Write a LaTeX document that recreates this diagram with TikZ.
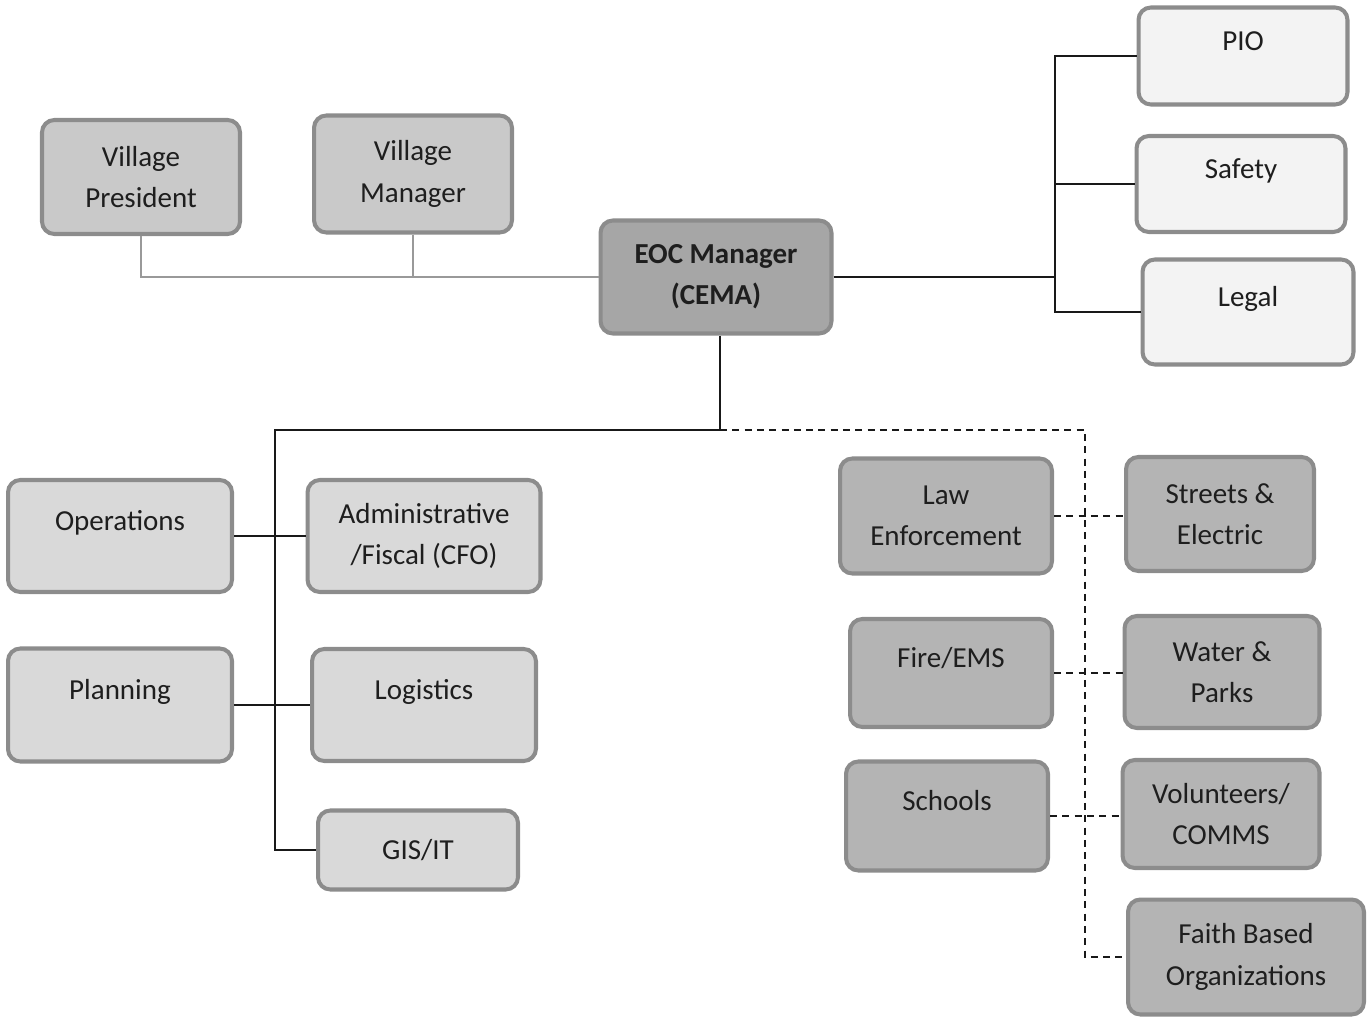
\documentclass[tikz,border=0pt]{standalone}
\usepackage{fontspec}
\setmainfont{Carlito}
\usetikzlibrary{calc}

\definecolor{boxedge}{HTML}{8C8C8C}
\definecolor{paleFill}{HTML}{F3F3F3}
\definecolor{lightFill}{HTML}{D9D9D9}
\definecolor{villageFill}{HTML}{C9C9C9}
\definecolor{darkFill}{HTML}{B4B4B4}
\definecolor{eocFill}{HTML}{A6A6A6}
\definecolor{inkgrey}{HTML}{1E1E1E}

\begin{document}
\begin{tikzpicture}[
    x=0.02cm, y=-0.02cm,
    box/.style={rectangle, draw=boxedge, line width=2.3pt, rounded corners=7pt, align=center, inner sep=2pt, text=inkgrey, font=\fontsize{16.5}{23.5}\selectfont},
    palebox/.style={box, fill=paleFill},
    lightbox/.style={box, fill=lightFill},
    villagebox/.style={box, fill=villageFill},
    darkbox/.style={box, fill=darkFill},
    eocbox/.style={box, fill=eocFill, font=\fontsize{16.5}{23.5}\selectfont\bfseries},
    oneline/.style={text height=12pt, text depth=18.5pt},
    link/.style={line width=0.8pt, draw=black!90},
    faintlink/.style={line width=0.6pt, draw=black!40},
    dashlink/.style={line width=0.8pt, draw=black!90, dash pattern=on 4pt off 3pt},
]
\useasboundingbox (0,0) rectangle (1369,1017);

% === TOP: VILLAGE AND EOC ===
\node[villagebox, minimum width=3.96cm, minimum height=2.28cm] (president) at (141,177) {Village\\President};
\node[villagebox, minimum width=3.96cm, minimum height=2.34cm] (vmanager) at (413,174) {Village\\Manager};
\node[eocbox, minimum width=4.62cm, minimum height=2.26cm] (eoc) at (716,277) {EOC Manager\\(CEMA)};

% === COMMAND STAFF ===
\node[palebox, oneline, minimum width=4.18cm, minimum height=1.94cm] (pio) at (1243,56) {PIO};
\node[palebox, oneline, minimum width=4.18cm, minimum height=1.92cm] (safety) at (1241,184) {Safety};
\node[palebox, oneline, minimum width=4.22cm, minimum height=2.10cm] (legal) at (1248,312) {Legal};

% === GENERAL STAFF ===
\node[lightbox, oneline, minimum width=4.48cm, minimum height=2.24cm] (operations) at (120,536) {Operations};
\node[lightbox, minimum width=4.66cm, minimum height=2.24cm] (admin) at (424,536) {Administrative\\/Fiscal (CFO)};
\node[lightbox, oneline, minimum width=4.48cm, minimum height=2.26cm] (planning) at (120,705) {Planning};
\node[lightbox, oneline, minimum width=4.48cm, minimum height=2.24cm] (logistics) at (424,705) {Logistics};
\node[lightbox, minimum width=4.00cm, minimum height=1.58cm] (gisit) at (418,850) {GIS/IT};

% === SUPPORTING AGENCIES ===
\node[darkbox, minimum width=4.24cm, minimum height=2.30cm] (law) at (946,516) {Law\\Enforcement};
\node[darkbox, oneline, minimum width=4.04cm, minimum height=2.16cm] (fire) at (951,673) {Fire/EMS};
\node[darkbox, oneline, minimum width=4.04cm, minimum height=2.18cm] (schools) at (947,816) {Schools};
\node[darkbox, minimum width=3.76cm, minimum height=2.28cm] (streets) at (1220,514) {Streets \&\\Electric};
\node[darkbox, minimum width=3.90cm, minimum height=2.24cm] (water) at (1222,672) {Water \&\\Parks};
\node[darkbox, minimum width=3.94cm, minimum height=2.16cm] (volunteers) at (1221,814) {Volunteers/\\COMMS};
\node[darkbox, minimum width=4.72cm, minimum height=2.30cm] (faith) at (1246,957) {Faith Based\\Organizations};

% junction points
\coordinate (rightbus) at (1055,277);
\coordinate (split) at (720,430);
\coordinate (leftbus) at (275,430);
\coordinate (dashbus) at (1085,430);

% === CONNECTORS ===
% Village to EOC
\draw[faintlink] (president.south) |- (eoc.west);
\draw[faintlink] (vmanager.south) -- (vmanager.south |- eoc.west);

% EOC to command staff
\draw[link] (eoc.east) -- (rightbus);
\draw[link] (pio.west) -| (rightbus) |- (legal.west);
\draw[link] (safety.west) -- (safety.west -| rightbus);

% EOC to general staff
\draw[link] (eoc.south -| split) -- (split) -- (leftbus) |- (gisit.west);
\draw[link] (operations.east) -- (admin.west);
\draw[link] (planning.east) -- (logistics.west);

% EOC to supporting agencies
\draw[dashlink] (split) -- (dashbus) |- (faith.west);
\draw[dashlink] (law.east) -- (law.east -| streets.west);
\draw[dashlink] (fire.east) -- (fire.east -| water.west);
\draw[dashlink] (schools.east) -- (schools.east -| volunteers.west);

\end{tikzpicture}
\end{document}
